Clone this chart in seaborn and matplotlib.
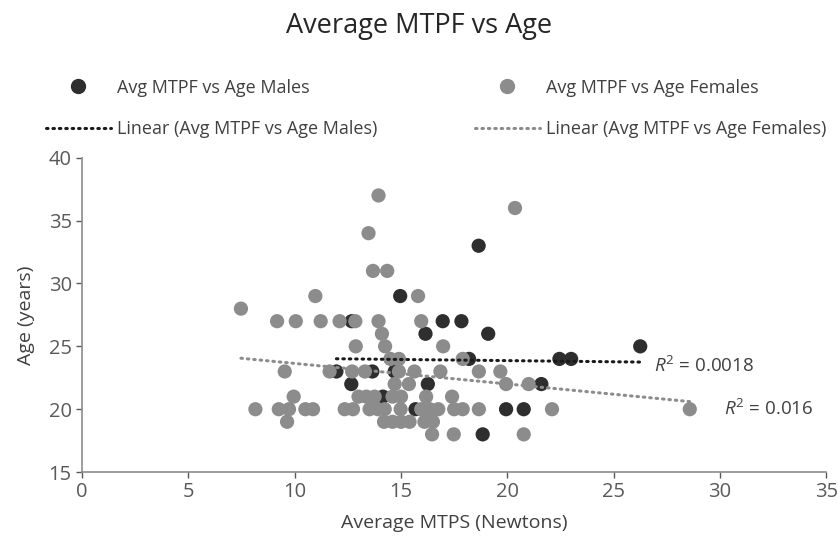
import matplotlib
matplotlib.use('Agg')
import matplotlib.pyplot as plt
from matplotlib.lines import Line2D
import seaborn as sns
import pandas as pd

sns.set_style('white')
plt.rcParams['font.family'] = ['Open Sans', 'DejaVu Sans']
plt.rcParams['mathtext.fontset'] = 'custom'
plt.rcParams['mathtext.rm'] = 'Open Sans'
plt.rcParams['mathtext.it'] = 'Open Sans:italic'

# average MTPS (N) and age (years)
male_mtps = [14.96, 18.65, 12.68, 16.96, 17.84, 16.15, 19.1, 26.25, 18.2, 22.45, 23.0,
             11.96, 13.65, 14.7, 12.66, 16.26, 21.6, 14.15, 15.68, 19.94, 20.77, 18.84]
male_age = [29, 33, 27, 27, 27, 26, 26, 25, 24, 24, 24,
            23, 23, 23, 22, 22, 22, 21, 20, 20, 20, 18]

female_mtps = [7.47, 13.94, 20.36, 13.47, 13.68, 14.35, 10.97, 15.8,
               9.17, 10.05, 11.22, 12.11, 12.85, 13.94, 15.95,
               14.1, 12.87, 14.25, 16.98, 14.5, 14.9, 17.9,
               9.53, 11.64, 12.7, 13.3, 14.9, 15.63, 16.85, 18.66, 19.67,
               14.7, 15.37, 19.94, 21.0,
               9.95, 13.0, 13.37, 13.76, 14.6, 15.0, 16.18, 17.4,
               8.15, 9.25, 9.73, 10.5, 10.86, 12.35, 12.74, 13.52, 13.91, 14.23, 14.98,
               15.95, 16.35, 16.75, 17.5, 17.9, 18.66, 22.1, 28.58,
               9.64, 14.2, 14.6, 15.0, 15.4, 16.1, 16.5,
               16.46, 17.48, 20.77]
female_age = [28, 37, 36, 34, 31, 31, 29, 29,
              27, 27, 27, 27, 27, 27, 27,
              26, 25, 25, 25, 24, 24, 24,
              23, 23, 23, 23, 23, 23, 23, 23, 23,
              22, 22, 22, 22,
              21, 21, 21, 21, 21, 21, 21, 21,
              20, 20, 20, 20, 20, 20, 20, 20, 20, 20, 20,
              20, 20, 20, 20, 20, 20, 20, 20,
              19, 19, 19, 19, 19, 19, 19,
              18, 18, 18]

r2_labels = ['$R^2$ = 0.0018', '$R^2$ = 0.016']

male_col = '#2e2e2e'
female_col = '#8c8c8c'

df = pd.DataFrame({
    'MTPS': male_mtps + female_mtps,
    'Age': male_age + female_age,
    'Sex': ['Avg MTPF vs Age Males'] * len(male_mtps) + ['Avg MTPF vs Age Females'] * len(female_mtps),
})

fig = plt.figure(figsize=(8.38, 5.42), dpi=100)
ax = fig.add_axes([0.098, 0.129, 0.888, 0.58])

sns.scatterplot(data=df, x='MTPS', y='Age', hue='Sex',
                palette=[male_col, female_col], s=105, linewidth=0,
                legend=False, ax=ax, zorder=2)

dot = (0, (0.5, 1.6))
sns.regplot(x=male_mtps, y=male_age, scatter=False, ci=None, truncate=True, ax=ax,
            line_kws=dict(color='#1a1a1a', lw=2.2, ls=dot, dash_capstyle='round', zorder=3))
sns.regplot(x=female_mtps, y=female_age, scatter=False, ci=None, truncate=True, ax=ax,
            line_kws=dict(color='#8c8c8c', lw=2.2, ls=dot, dash_capstyle='round', zorder=3))

ax.text(26.9, 23.45, r2_labels[0], fontsize=13.5, color='#404040', va='center')
ax.text(30.2, 20.0, r2_labels[1], fontsize=13.5, color='#404040', va='center')

ax.set_xlim(0, 35)
ax.set_ylim(15, 40)
ax.set_xticks(range(0, 36, 5))
ax.set_yticks(range(15, 41, 5))
ax.set_xlabel('Average MTPS (Newtons)', fontsize=14, color='#404040', labelpad=8)
ax.set_ylabel('Age (years)', fontsize=14, color='#404040', labelpad=10)
ax.tick_params(axis='both', labelsize=14.5, colors='#595959', length=4, width=1,
               direction='out', bottom=True, left=True)
for s in ['top', 'right']:
    ax.spines[s].set_visible(False)
for s in ['left', 'bottom']:
    ax.spines[s].set_color('#8c8c8c')
    ax.spines[s].set_linewidth(1.2)

fig.suptitle('Average MTPF vs Age', fontsize=19.5, color='#262626', y=0.978)

handles = [
    Line2D([], [], ls='none', marker='o', markersize=10, color=male_col),
    Line2D([], [], color='#1a1a1a', lw=2.2, ls=dot, dash_capstyle='round'),
    Line2D([], [], ls='none', marker='o', markersize=10, color=female_col),
    Line2D([], [], color='#8c8c8c', lw=2.2, ls=dot, dash_capstyle='round'),
]
labels = ['Avg MTPF vs Age Males', 'Linear (Avg MTPF vs Age Males)',
          'Avg MTPF vs Age Females', 'Linear (Avg MTPF vs Age Females)']
fig.legend(handles, labels, ncol=2, loc='upper left', bbox_to_anchor=(0.035, 0.885),
           frameon=False, fontsize=13, labelcolor='#404040', handlelength=3.6,
           handletextpad=0.35, columnspacing=5.4, labelspacing=1.3)

fig.savefig('out.png', dpi=100)
